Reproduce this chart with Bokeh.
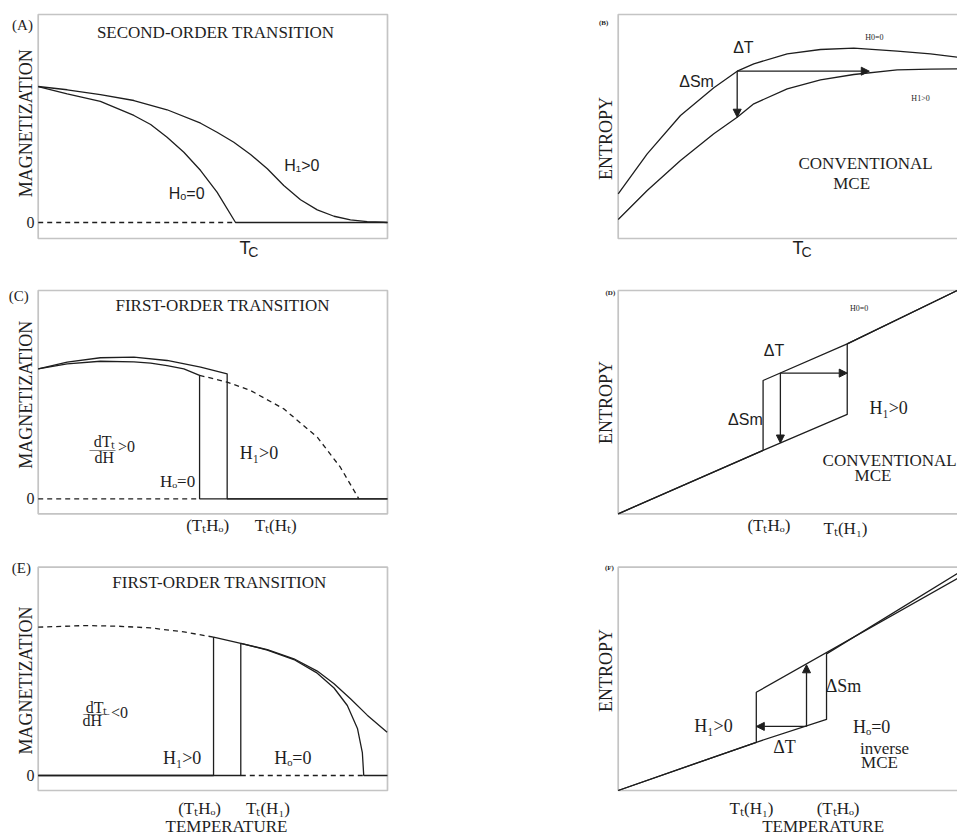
import math
from bokeh.plotting import figure
from bokeh.models import Label, Arrow, NormalHead, BoxAnnotation, Range1d
from bokeh.layouts import column, row
from bokeh.embed import file_html
from bokeh.resources import INLINE

SERIF = "Liberation Serif"
SANS = "Liberation Sans"
INK = "#1e1e1e"
FRAME = "#3a3a3a"
LW = 1.3
DASH = "5 4"

# ---------------- data (schematic units) ----------------
# (A) second-order transition, magnetization vs temperature
A_T_h0 = [0, 0.83, 1.78, 2.74, 3.22, 3.69, 4.17, 4.65, 5.12, 5.65, 10.0]
A_M_h0 = [1.0, 0.946, 0.890, 0.787, 0.721, 0.627, 0.517, 0.382, 0.223, 0.0, 0.0]
A_T_h1 = [0, 0.83, 1.78, 2.74, 3.69, 4.65, 5.12, 5.60, 6.08, 6.56, 7.03, 7.51, 7.99, 8.47, 8.94, 9.42, 9.89, 10.0]
A_M_h1 = [1.0, 0.976, 0.941, 0.897, 0.829, 0.730, 0.664, 0.590, 0.500, 0.395, 0.272, 0.167, 0.093, 0.046, 0.020, 0.007, 0.002, 0.0]
A_zero_T = [0, 5.65]
A_zero_M = [0, 0]
A_box = [0, 10, -0.1176, 1.5294]          # panel limits: T min/max, M min/max

# (B) entropy, conventional MCE (second order)
B_T = [0, 0.855, 1.836, 2.818, 3.507, 3.996, 4.981, 5.962, 6.944, 8.223, 9.204, 9.991]
B_S_h0 = [1.996, 3.781, 5.491, 6.728, 7.469, 7.799, 8.246, 8.438, 8.496, 8.362, 8.246, 8.094]
B_S_h1 = [0.848, 2.143, 3.482, 4.674, 5.415, 6.013, 6.683, 7.085, 7.321, 7.531, 7.560, 7.576]
B_arrow_T = [3.507, 3.507, 7.40]     # start T, vertical end T, horizontal end T
B_arrow_S = [7.469, 5.415, 7.469]
B_box = [0, 10.5, 0, 10]

# (C) first-order transition, dTt/dH > 0
C_T_h1 = [0, 0.83, 1.78, 2.74, 3.69, 4.65, 5.41, 5.41, 10.0]
C_M_h1 = [1.0, 1.051, 1.085, 1.090, 1.064, 1.013, 0.961, 0.0, 0.0]
C_T_h0 = [0, 0.83, 1.78, 2.74, 3.22, 3.69, 4.17, 4.62, 4.62, 10.0]
C_M_h0 = [1.0, 1.038, 1.058, 1.054, 1.043, 1.025, 1.0, 0.95, 0.0, 0.0]
C_T_hyp = [4.62, 5.41, 6.08, 7.03, 7.99, 8.65, 9.18]
C_M_hyp = [0.95, 0.897, 0.833, 0.692, 0.474, 0.243, 0.0]
C_zero_T = [0, 4.62]
C_zero_M = [0, 0]
C_box = [0, 10, -0.1154, 1.6023]

# (D) entropy, conventional MCE (first order)
D_T_h0 = [0, 4.27, 4.27, 6.75, 9.99]
D_S_h0 = [0, 2.84, 5.97, 7.61, 10.0]
D_T_h1 = [0, 4.27, 6.75, 6.75, 9.99]
D_S_h1 = [0, 2.84, 4.45, 7.61, 10.0]
D_arrow_T = [4.78, 4.78, 6.75]
D_arrow_S = [6.30, 3.17, 6.30]
D_box = [0, 10.5, 0, 10]

# (E) first-order transition, dTt/dH < 0
E_T_hyp = [0, 1.31, 2.26, 3.22, 4.17, 5.02]
E_M_hyp = [1.0, 1.011, 1.007, 0.995, 0.968, 0.933]
E_T_h1 = [0, 5.02, 5.02, 5.80, 6.56, 7.32, 7.99, 8.47, 8.94, 9.42, 9.99]
E_M_h1 = [0, 0, 0.933, 0.891, 0.848, 0.787, 0.704, 0.618, 0.517, 0.407, 0.292]
E_T_h0 = [0, 5.80, 5.80, 6.56, 7.32, 7.99, 8.47, 8.85, 9.14, 9.28, 9.32, 10.0]
E_M_h0 = [0, 0, 0.891, 0.846, 0.782, 0.690, 0.590, 0.472, 0.317, 0.155, 0.0, 0.0]
E_zero_T = [5.80, 9.32]
E_zero_M = [0, 0]
E_box = [0, 10, -0.1011, 1.4046]

# (F) entropy, inverse MCE
F_T_h1 = [0, 4.07, 4.07, 10.0]
F_S_h1 = [0, 2.16, 4.40, 9.49]
F_T_h0 = [0, 4.07, 6.14, 6.14, 10.0]
F_S_h0 = [0, 2.16, 3.18, 6.12, 9.72]
F_arrow_T = [5.55, 5.55, 4.07]
F_arrow_S = [2.87, 5.63, 2.87]
F_box = [0, 10.5, 0, 10]


# ---------------- helpers ----------------
def make_fig(width, height, xr, yr, box):
    p = figure(width=width, height=height, x_range=Range1d(*xr), y_range=Range1d(*yr),
               output_backend="svg", toolbar_location=None,
               x_axis_location=None, y_axis_location=None,
               min_border_left=0, min_border_right=0,
               min_border_top=0, min_border_bottom=0,
               background_fill_color="white", border_fill_color="white")
    p.xgrid.visible = False
    p.ygrid.visible = False
    p.outline_line_color = None
    p.add_layout(BoxAnnotation(left=box[0], right=box[1], bottom=box[2], top=box[3],
                               fill_alpha=0, fill_color=None,
                               line_color=FRAME, line_width=1.7))
    return p


def lab(p, x, y, text, size, font=SERIF, angle=0.0, align="center", style="normal"):
    p.add_layout(Label(x=x, y=y, text=text, text_font=font,
                       text_font_size=f"{size}px", text_align=align,
                       text_baseline="middle", angle=angle, text_color=INK,
                       text_font_style=style))


def curve(p, xs, ys, dash="solid"):
    p.line(xs, ys, line_color=INK, line_width=LW, line_dash=dash)


def arrow(p, x0, y0, x1, y1):
    p.add_layout(Arrow(end=NormalHead(size=8, fill_color=INK, line_color=INK, line_width=1),
                       x_start=x0, y_start=y0, x_end=x1, y_end=y1,
                       line_color=INK, line_width=LW))


ROT = math.pi / 2

# ---------------- panel A ----------------
pA = make_fig(450, 279, (-1.0793, 11.8039), (-0.4191, 1.6324), A_box)
curve(pA, A_zero_T, A_zero_M, DASH)
curve(pA, A_T_h0, A_M_h0)
curve(pA, A_T_h1, A_M_h1)
lab(pA, -0.45, 1.449, "(A)", 15)
lab(pA, 5.08, 1.40, "SECOND-ORDER TRANSITION", 17)
lab(pA, -0.36, 0.73, "MAGNETIZATION", 18, angle=ROT)
lab(pA, -0.22, 0.0, "0", 16)
lab(pA, 7.55, 0.42, "H\u2081>0", 16, font=SANS)
lab(pA, 4.25, 0.21, "H\u2092=0", 16, font=SANS)
lab(pA, 5.92, -0.191, "T", 18, font=SANS)
lab(pA, 6.16, -0.217, "C", 14, font=SANS)

# ---------------- panel B ----------------
pB = make_fig(507, 279, (-4.9425, 10.0), (-1.8304, 10.625), B_box)
curve(pB, B_T, B_S_h0)
curve(pB, B_T, B_S_h1)
arrow(pB, B_arrow_T[0], B_arrow_S[0], B_arrow_T[1], B_arrow_S[1])
arrow(pB, B_arrow_T[0], B_arrow_S[0], B_arrow_T[2], B_arrow_S[2])
lab(pB, -0.43, 9.6, "(B)", 7, style="bold")
lab(pB, -0.37, 4.46, "ENTROPY", 18, angle=ROT)
lab(pB, 3.69, 8.52, "\u0394T", 16, font=SANS)
lab(pB, 2.31, 7.01, "\u0394Sm", 16, font=SANS)
lab(pB, 7.55, 8.97, "H0=0", 8)
lab(pB, 8.91, 6.25, "H1>0", 8)
lab(pB, 7.29, 3.35, "CONVENTIONAL", 17)
lab(pB, 6.88, 2.46, "MCE", 17)
lab(pB, 5.30, -0.446, "T", 18, font=SANS)
lab(pB, 5.55, -0.603, "C", 14, font=SANS)

# ---------------- panel C ----------------
pC = make_fig(450, 277, (-1.0793, 11.8039), (-0.4438, 1.6869), C_box)
curve(pC, C_zero_T, C_zero_M, DASH)
curve(pC, C_T_hyp, C_M_hyp, DASH)
curve(pC, C_T_h0, C_M_h0)
curve(pC, C_T_h1, C_M_h1)
lab(pC, -0.56, 1.56, "(C)", 15)
lab(pC, 5.28, 1.49, "FIRST-ORDER TRANSITION", 17)
lab(pC, -0.36, 0.80, "MAGNETIZATION", 18, angle=ROT)
lab(pC, -0.22, 0.0, "0", 16)
lab(pC, 1.90, 0.44, "dT\u209C", 16)
lab(pC, 1.84, 0.387, "\u2014\u2014", 13)
lab(pC, 1.89, 0.32, "dH", 16)
lab(pC, 2.53, 0.40, ">0", 16)
lab(pC, 6.32, 0.35, "H\u2081>0", 18)
lab(pC, 3.99, 0.13, "H\u2092=0", 17)
lab(pC, 4.85, -0.205, "(T\u209CH\u2092)", 17)
lab(pC, 6.80, -0.205, "T\u209C(H\u209C)", 17)

# ---------------- panel D ----------------
pD = make_fig(507, 277, (-4.9425, 10.0), (-1.9122, 10.4926), D_box)
curve(pD, D_T_h0, D_S_h0)
curve(pD, D_T_h1, D_S_h1)
arrow(pD, D_arrow_T[0], D_arrow_S[0], D_arrow_T[1], D_arrow_S[1])
arrow(pD, D_arrow_T[0], D_arrow_S[0], D_arrow_T[2], D_arrow_S[2])
lab(pD, -0.23, 9.87, "(D)", 7, style="bold")
lab(pD, -0.37, 4.98, "ENTROPY", 18, angle=ROT)
lab(pD, 7.10, 9.21, "H0=0", 8)
lab(pD, 4.59, 7.31, "\u0394T", 16, font=SANS)
lab(pD, 3.75, 4.22, "\u0394Sm", 16, font=SANS)
lab(pD, 7.97, 4.72, "H\u2081>0", 18)
lab(pD, 8.0, 2.39, "CONVENTIONAL", 17)
lab(pD, 7.51, 1.72, "MCE", 17)
lab(pD, 4.44, -0.52, "(T\u209CH\u2092)", 17)
lab(pD, 6.70, -0.66, "T\u209C(H\u2081)", 17)

# ---------------- panel E ----------------
pE = make_fig(450, 281, (-1.0793, 11.8039), (-0.4181, 1.4767), E_box)
curve(pE, E_T_hyp, E_M_hyp, DASH)
curve(pE, E_zero_T, E_zero_M, DASH)
curve(pE, E_T_h1, E_M_h1)
curve(pE, E_T_h0, E_M_h0)
lab(pE, -0.48, 1.40, "(E)", 15)
lab(pE, 5.19, 1.30, "FIRST-ORDER TRANSITION", 17)
lab(pE, -0.36, 0.64, "MAGNETIZATION", 18, angle=ROT)
lab(pE, -0.22, 0.0, "0", 16)
lab(pE, 1.67, 0.46, "dT\u209C", 16)
lab(pE, 1.66, 0.427, "\u2014\u2014", 13)
lab(pE, 1.55, 0.371, "dH", 16)
lab(pE, 2.33, 0.427, "<0", 16)
lab(pE, 4.12, 0.12, "H\u2081>0", 18)
lab(pE, 7.29, 0.12, "H\u2092=0", 18)
lab(pE, 4.62, -0.225, "(T\u209CH\u2092)", 17)
lab(pE, 6.58, -0.225, "T\u209C(H\u2081)", 17)
lab(pE, 5.39, -0.345, "TEMPERATURE", 17)

# ---------------- panel F ----------------
pF = make_fig(507, 281, (-4.9425, 10.0), (-2.1048, 10.4792), F_box)
curve(pF, F_T_h1, F_S_h1)
curve(pF, F_T_h0, F_S_h0)
arrow(pF, F_arrow_T[0], F_arrow_S[0], F_arrow_T[1], F_arrow_S[1])
arrow(pF, F_arrow_T[0], F_arrow_S[0], F_arrow_T[2], F_arrow_S[2])
lab(pF, -0.26, 9.98, "(F)", 7, style="bold")
lab(pF, -0.37, 5.37, "ENTROPY", 18, angle=ROT)
lab(pF, 2.81, 2.91, "H\u2081>0", 18)
lab(pF, 4.90, 1.94, "\u0394T", 18)
lab(pF, 6.64, 4.66, "\u0394Sm", 18)
lab(pF, 7.47, 2.83, "H\u2092=0", 18)
lab(pF, 7.85, 1.87, "inverse", 17)
lab(pF, 7.70, 1.27, "MCE", 17)
lab(pF, 3.93, -0.82, "T\u209C(H\u2081)", 17)
lab(pF, 6.48, -0.82, "(T\u209CH\u2092)", 17)
lab(pF, 6.04, -1.59, "TEMPERATURE", 17)

layout = column(row(pA, pB), row(pC, pD), row(pE, pF))
open("out.html", "w").write(file_html(layout, INLINE, "MCE schematic"))
